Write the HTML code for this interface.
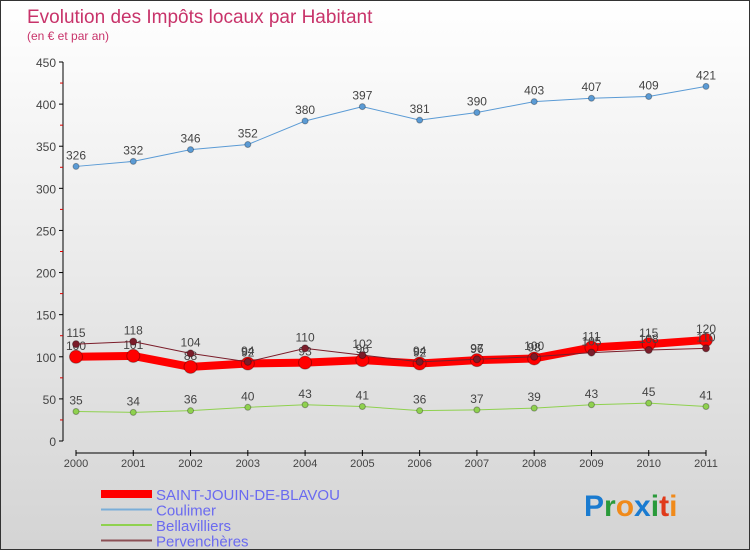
<!DOCTYPE html>
<html><head><meta charset="utf-8"><style>
body{margin:0}
#c{width:750px;height:550px;position:relative;overflow:hidden;font-family:"Liberation Sans",sans-serif;
background:linear-gradient(#ffffff,#d4d4d4);border:1px solid #333;box-sizing:border-box}
svg text{font-family:"Liberation Sans",sans-serif}
</style></head><body>
<div id="c">
<svg id="s" width="750" height="550">
<text x="26" y="22" font-size="19" fill="#c8336a">Evolution des Impôts locaux par Habitant</text>
<text x="26" y="39" font-size="12" fill="#c8336a">(en € et par an)</text>
</svg>
</div>
<script>
const years=["2000","2001","2002","2003","2004","2005","2006","2007","2008","2009","2010","2011"];
const saint=[100,101,88,92,93,96,92,96,98,111,115,120];
const coulimer=[326,332,346,352,380,397,381,390,403,407,409,421];
const bella=[35,34,36,40,43,41,36,37,39,43,45,41];
const perv=[115,118,104,94,110,102,94,97,100,105,108,110];
const yTicks=[0,50,100,150,200,250,300,350,400,450];
const NS="http://www.w3.org/2000/svg";
const s=document.getElementById('s');
const X=i=>75+i*(705-75)/11;
const Y=v=>440-v*(440-61)/450;
function mk(t,a,p){const e=document.createElementNS(NS,t);for(const k in a)e.setAttribute(k,a[k]);(p||s).appendChild(e);return e;}
// axes
let ya=mk('line',{x1:62,y1:61,x2:62,y2:440,stroke:'#000'});


yTicks.forEach(v=>{
 mk('line',{x1:58,x2:62,y1:Y(v),y2:Y(v),stroke:'#000'});
 mk('line',{x1:59,x2:62,y1:Y(v+25),y2:Y(v+25),stroke:v+25<450?'#d00':'none'});
 const t=mk('text',{x:55,y:Y(v)+5,'font-size':12,fill:'#444','text-anchor':'end'});t.textContent=v;
 
 
});
let xa=mk('line',{x1:75,y1:452,x2:705,y2:452,stroke:'#000'});


years.forEach((y,i)=>{
 mk('line',{x1:X(i),x2:X(i),y1:449,y2:455,stroke:'#000'});
 const t=mk('text',{x:X(i),y:466,'font-size':11,fill:'#444','text-anchor':'middle'});t.textContent=y;
 
 
});
function series(d,col,w,r,name,lab){
 const g=mk('g',{});
 
 
 mk('polyline',{points:d.map((v,i)=>X(i)+','+Y(v)).join(' '),fill:'none',stroke:col,'stroke-width':w,'stroke-linejoin':'round'},g);
 d.forEach((v,i)=>{
  const c=mk('circle',{cx:X(i),cy:Y(v),r:r,fill:col,stroke:'rgba(0,0,0,0.3)'},g);
  
  
  if(lab){const t=mk('text',{x:X(i),y:Y(v)-7,'font-size':12,fill:'#444','text-anchor':'middle'},g);t.textContent=v;}
 });
}
series(coulimer,'#5b9bd5',1,3,'series-coulimer',true);
series(bella,'#8fd14f',1,3,'series-bellavilliers',true);
series(saint,'#ff0000',8,6.5,'series-saint-jouin',true);
series(perv,'#7b1d2a',1,3.5,'series-pervencheres',true);
const leg=[['SAINT-JOUIN-DE-BLAVOU','#ff0000',8],['Coulimer','#7aaed8',2],['Bellavilliers','#8fd14f',2],['Pervenchères','#8b5055',2]];
leg.forEach((l,i)=>{
 const y=493+i*15.5;
 const g=mk('g',{});
 
 
 mk('line',{x1:100,x2:151,y1:y,y2:y,stroke:l[1],'stroke-width':l[2]},g);
 const t=mk('text',{x:155,y:y+6,'font-size':15,fill:'#6a6af0'},g);t.textContent=l[0];
});
const lg=mk('text',{x:583,y:515,'font-size':30,'font-weight':'bold'});


[['P','#1a7bd0'],['r','#2a9a3a'],['o','#f08a1a'],['x','#1a7bd0'],['i','#2a9a3a'],['t','#e03a1a'],['i','#f08a1a']].forEach(c=>{const sp=mk('tspan',{fill:c[1]},lg);sp.textContent=c[0];});
</script>
</body></html>
